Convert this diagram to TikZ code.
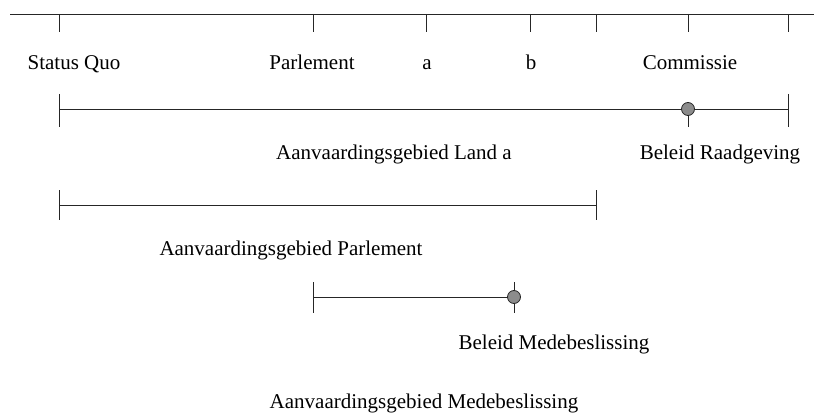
\documentclass[tikz,border=0pt]{standalone}
\usepackage{fontspec}
\setmainfont{Liberation Serif}
\begin{document}
\begin{tikzpicture}[x=1pt,y=-1pt,
  ln/.style={line width=0.8pt, draw=black!85},
  lbl/.style={anchor=base, inner sep=0pt, font=\fontsize{21}{25}\selectfont},
  dot/.style={circle, draw=black!85, line width=0.8pt, fill=black!45, minimum size=13pt, inner sep=0pt}]
\useasboundingbox (0,0) rectangle (814,417);
% top axis
\coordinate (axL) at (10,14);
\coordinate (axR) at (814,14);
\draw[ln] (axL) -- (axR);
\foreach \n/\x in {sq/59,pa/313,ta/426,tb/530,tc/596,co/688,te/788}{
  \coordinate (\n) at (\x,14);
  \coordinate (\n b) at (\x,32);
  \draw[ln] (\n) -- (\n b);
}
\node[lbl] (lsq) at (74,70) {Status Quo};
\node[lbl] (lpa) at (312,70) {Parlement};
\node[lbl] (la) at (427,70) {a};
\node[lbl] (lb) at (531,70) {b};
\node[lbl] (lco) at (690,70) {Commissie};
% Land a
\coordinate (la1) at (59,109);
\coordinate (la2) at (788,109);
\draw[ln] (la1) -- (la2);
\draw[ln] (59,94) -- (59,127);
\draw[ln] (788,94) -- (788,127);
\coordinate (rg) at (688,109);
\coordinate (rgb) at (688,127);
\draw[ln] (rg) -- (rgb);
\node[dot] (drg) at (rg) {};
\node[lbl] (llanda) at (394,160) {Aanvaardingsgebied Land a};
\node[lbl] (lrg) at (720,160) {Beleid Raadgeving};
% Parlement
\coordinate (pa1) at (59,205);
\coordinate (pa2) at (596,205);
\draw[ln] (pa1) -- (pa2);
\draw[ln] (59,190) -- (59,220);
\draw[ln] (596,190) -- (596,220);
\node[lbl] (lpar) at (291,255) {Aanvaardingsgebied Parlement};
% Medebeslissing
\coordinate (mb1) at (313,297);
\coordinate (mb2) at (514,297);
\draw[ln] (mb1) -- (mb2);
\draw[ln] (313,282) -- (313,313);
\draw[ln] (514,282) -- (514,313);
\node[dot] (dmb) at (mb2) {};
\node[lbl] (lbm) at (554,349) {Beleid Medebeslissing};
\node[lbl] (lam) at (424,408) {Aanvaardingsgebied Medebeslissing};
\end{tikzpicture}
\end{document}
